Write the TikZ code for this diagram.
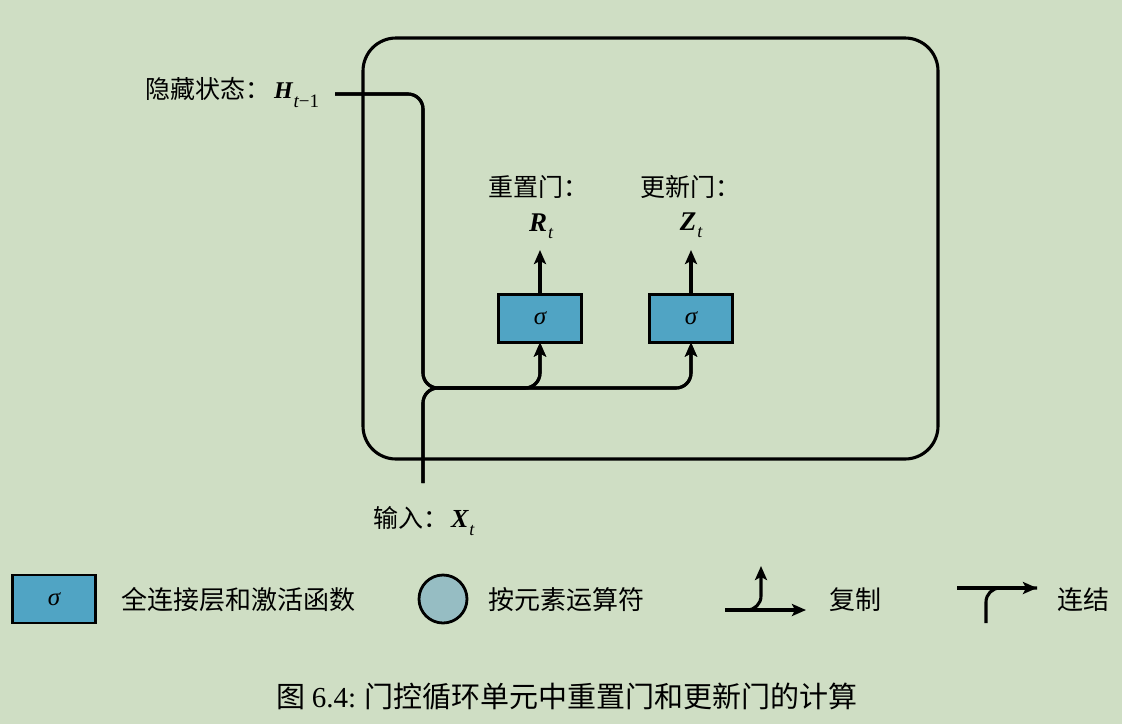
\documentclass[tikz,border=0pt]{standalone}
\usepackage{fontspec}
\setmainfont{Liberation Serif}
\newfontfamily\cjk{Noto Sans CJK SC}
\usetikzlibrary{arrows.meta}
\definecolor{bg}{RGB}{207,222,196}
\definecolor{boxblue}{RGB}{80,164,196}
\definecolor{circfill}{RGB}{150,189,195}
\begin{document}
\begin{tikzpicture}[x=1pt,y=-1pt, line width=3.1pt,
  every node/.style={inner sep=0pt, outer sep=0pt},
  arr/.style={-{Stealth[length=14pt,width=12pt,inset=3pt]}},
  cn/.style={font=\cjk\fontsize{25}{30}\selectfont, anchor=base west},
  ln/.style={font=\cjk\fontsize{26}{30}\selectfont, anchor=west},
  mth/.style={anchor=base, font=\bfseries\itshape\fontsize{27}{27}\selectfont},
  gate/.style={draw, fill=boxblue, minimum width=83pt, minimum height=48pt, line width=2.8pt, font=\itshape\fontsize{25}{25}\selectfont},
]
\fill[bg] (0,0) rectangle (1122,724);
\useasboundingbox (0,0) rectangle (1122,724);

% cell
\node[draw, rounded corners=33pt, minimum width=575pt, minimum height=421pt] (cell) at (650.5,248.5) {};

% gates
\node[gate] (rg) at (540,318.5) {σ};
\node[gate] (zg) at (691,318.5) {σ};

% labels
\node[cn] (rname) at (488,196) {重置门：};
\node[cn] (zname) at (640,196) {更新门：};
\node[mth] (rlab) at (541,231) {R\kern1pt\raisebox{-7pt}{\mdseries\fontsize{18}{18}\selectfont t}};
\node[mth] (zlab) at (691,230) {Z\kern1pt\raisebox{-7pt}{\mdseries\fontsize{18}{18}\selectfont t}};
\coordinate (rtip) at (540,250);
\coordinate (ztip) at (691,250);
\draw[arr] (rg.north) -- (rtip);
\draw[arr] (zg.north) -- (ztip);

\node[cn] (hname) at (145,98) {隐藏状态：\kern4pt{\rmfamily\bfseries\itshape\fontsize{24}{24}\selectfont H}\kern1pt\raisebox{-9pt}{\rmfamily\itshape\fontsize{19}{19}\selectfont t\upshape −1}};
\node[cn] (xname) at (373,527) {输入：\kern3pt{\rmfamily\bfseries\itshape\fontsize{26}{26}\selectfont X}\kern1pt\raisebox{-8pt}{\rmfamily\itshape\fontsize{18}{18}\selectfont t}};

\coordinate (hin) at (335,94);
\coordinate (xin) at (423,483);
\foreach \g in {rg,zg}{
  \draw[arr, rounded corners=15pt] (hin) -| (423,388) -| (\g.south);
  \draw[arr, rounded corners=15pt] (xin) -- (423,388) -| (\g.south);
}

% legend
\node[gate] (lbox) at (54,599) {σ};
\node[ln] (l1) at (121,600) {全连接层和激活函数};
\node[draw, circle, fill=circfill, minimum size=48pt, line width=2.8pt] (lcirc) at (443,599) {};
\node[ln] (l2) at (488,600) {按元素运算符};
\coordinate (cpa) at (725,610);
\coordinate (cpb) at (806,610);
\coordinate (cpc) at (761,566);
\draw[arr] (cpa) -- (cpb);
\draw[arr, rounded corners=14pt] (cpa) -| (cpc);
\node[ln] (l3) at (829,600) {复制};
\coordinate (cna) at (957,588);
\coordinate (cnb) at (1037,588);
\coordinate (cnc) at (986,623);
\draw[arr] (cna) -- (cnb);
\draw[rounded corners=14pt] (cnc) |- (cnb);
\node[ln] (l4) at (1057,600) {连结};

% caption
\node[font=\cjk\fontsize{29}{34}\selectfont] (cap) at (567,697) {图 {\rmfamily 6.4:} 门控循环单元中重置门和更新门的计算};
\end{tikzpicture}
\end{document}
